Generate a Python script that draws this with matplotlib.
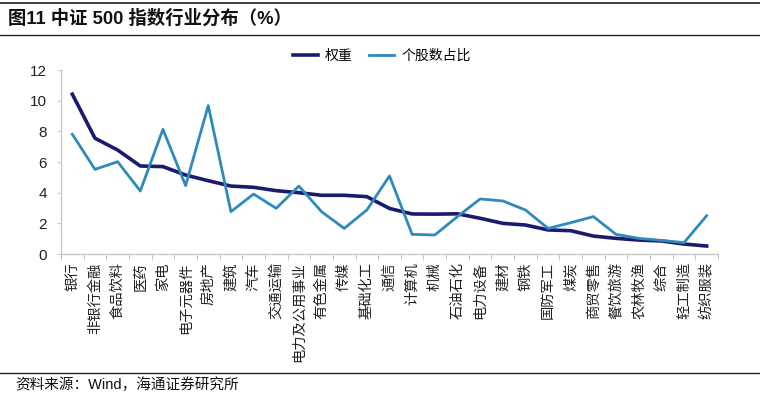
import matplotlib
matplotlib.use("Agg")
import matplotlib.pyplot as plt
from matplotlib.lines import Line2D
import numpy as np

plt.rcParams['font.family'] = ['Liberation Sans', 'Noto Sans CJK SC', 'DejaVu Sans']

categories = ["银行", "非银行金融", "食品饮料", "医药", "家电", "电子元器件", "房地产",
              "建筑", "汽车", "交通运输", "电力及公用事业", "有色金属", "传媒", "基础化工",
              "通信", "计算机", "机械", "石油石化", "电力设备", "建材", "钢铁", "国防军工",
              "煤炭", "商贸零售", "餐饮旅游", "农林牧渔", "综合", "轻工制造", "纺织服装"]
weight = [10.42, 7.55, 6.78, 5.74, 5.70, 5.15, 4.78, 4.43, 4.35, 4.13, 4.0, 3.83, 3.83, 3.74,
          2.97, 2.61, 2.60, 2.62, 2.33, 2.0, 1.89, 1.57, 1.52, 1.17, 1.02, 0.91, 0.85, 0.65, 0.52]
count_share = [7.81, 5.52, 6.02, 4.11, 8.13, 4.46, 9.68, 2.76, 3.91, 2.98, 4.43, 2.76, 1.67, 2.87,
               5.09, 1.28, 1.24, 2.44, 3.59, 3.46, 2.87, 1.67, 2.04, 2.44, 1.28, 1.02, 0.89, 0.74, 2.50]
series_names = ["权重", "个股数占比"]
yticks = [0, 2, 4, 6, 8, 10, 12]
title = "图11 中证 500 指数行业分布（%）"
source = "资料来源：Wind，海通证券研究所"

W, H = 760, 396
fig = plt.figure(figsize=(W / 100, H / 100), dpi=100)
ax = fig.add_axes([61 / W, 1 - 254 / H, (718 - 61) / W, (254 - 70) / H])

x = np.arange(len(categories))
ax.plot(x, weight, color="#1a1a6e", lw=2.6, label=series_names[0], solid_joinstyle="round")
ax.plot(x, count_share, color="#2f8abb", lw=2.0, label=series_names[1], solid_joinstyle="round")

ax.set_xlim(-0.5, len(categories) - 0.5)
ax.set_ylim(0, 12)
ax.set_yticks(yticks)
ax.set_yticklabels([str(v) for v in yticks], fontsize=11, color="#222222")
ax.set_xticks(x)
ax.set_xticklabels(categories, rotation=90, fontsize=10.3, color="#222222",
                   family=['Noto Sans CJK SC'])
ax.set_xticks(np.arange(-0.5, len(categories), 1), minor=True)
ax.tick_params(axis='x', which='major', length=0, pad=6)
ax.tick_params(axis='x', which='minor', length=4, color="#bbbbbb", direction='out')
ax.tick_params(axis='y', which='major', length=3, color="#cccccc", direction='out', pad=7)

for s in ["top", "right"]:
    ax.spines[s].set_visible(False)
for s in ["left", "bottom"]:
    ax.spines[s].set_color("#c8c8c8")
    ax.spines[s].set_linewidth(1.0)

fig.legend(loc="center left", bbox_to_anchor=(293 / W, 1 - 56 / H), ncol=2, frameon=False,
           handlelength=1.8, handletextpad=0.5, columnspacing=1.2,
           borderpad=0, borderaxespad=0, prop={'family': ['Noto Sans CJK SC'], 'size': 10})

fig.text(8 / W, 1 - 19 / H, title, fontsize=13.2, fontweight="bold", va="center", ha="left",
         color="#111111")
fig.text(15 / W, 1 - 385 / H, source, fontsize=10.5, va="center", ha="left", color="#111111")

fig.add_artist(Line2D([0, 1], [1 - 2.5 / H, 1 - 2.5 / H], transform=fig.transFigure,
                      color="#222222", lw=1.2))
fig.add_artist(Line2D([0, 1], [1 - 35 / H, 1 - 35 / H], transform=fig.transFigure,
                      color="#222222", lw=1.0))
fig.add_artist(Line2D([0, 1], [1 - 373 / H, 1 - 373 / H], transform=fig.transFigure,
                      color="#222222", lw=1.0))

fig.savefig("out.png", dpi=100, facecolor="white")
